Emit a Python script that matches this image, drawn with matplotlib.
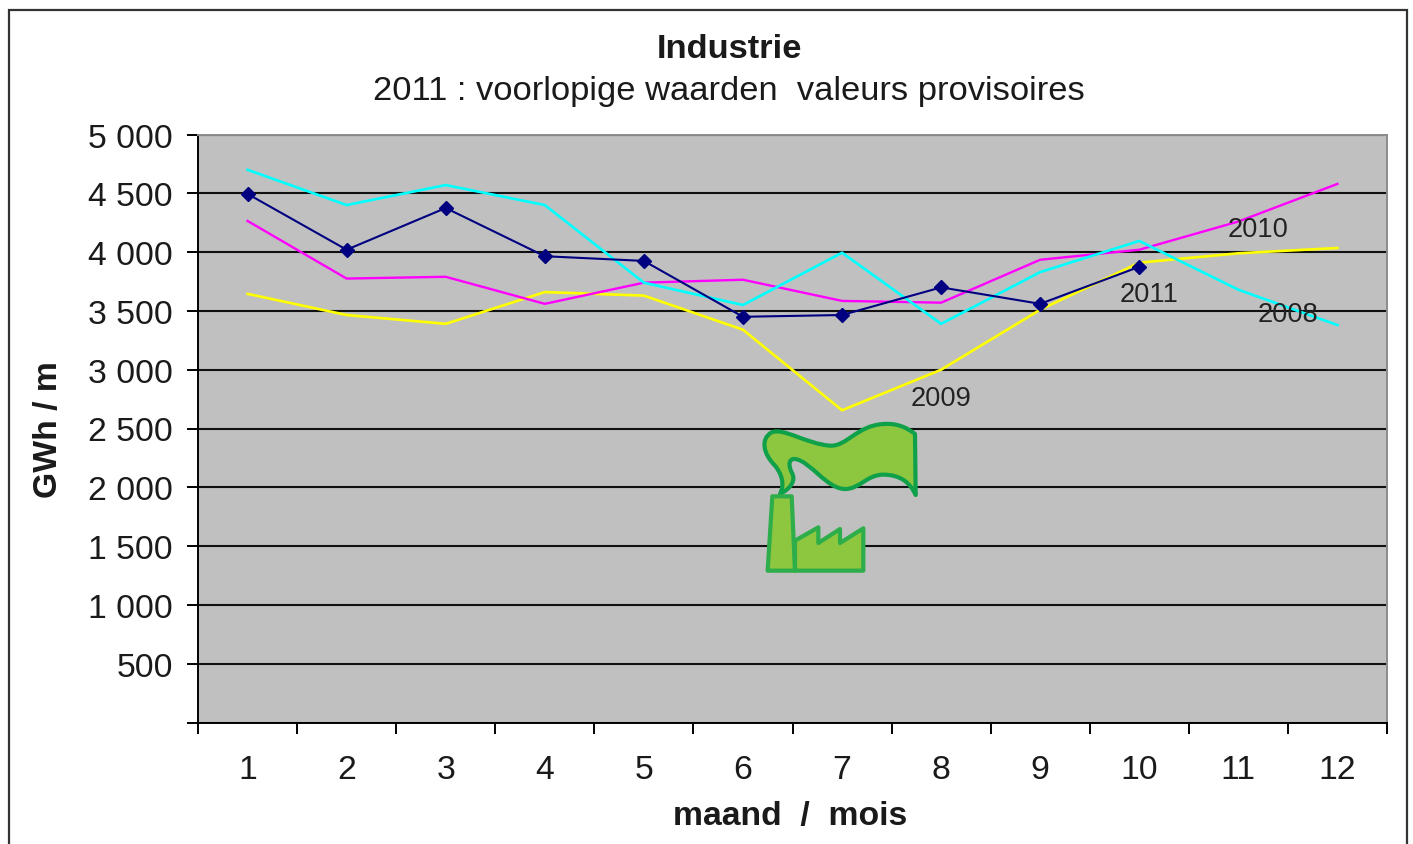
import matplotlib
matplotlib.use("Agg")
import matplotlib.pyplot as plt
from matplotlib.patches import PathPatch, Rectangle
from matplotlib.path import Path
from matplotlib.transforms import Affine2D
import numpy as np

plt.rcParams['font.family'] = ['Liberation Sans', 'DejaVu Sans']

W, H = 1413, 845

#--------chart data-------------#
months = [1, 2, 3, 4, 5, 6, 7, 8, 9, 10, 11, 12]
y2008 = [4700, 4400, 4570, 4400, 3740, 3550, 3995, 3390, 3830, 4095, 3680, 3380]
y2009 = [3645, 3465, 3390, 3660, 3630, 3340, 2655, 3000, 3510, 3910, 3990, 4035]
y2010 = [4265, 3775, 3790, 3560, 3740, 3765, 3585, 3570, 3935, 4020, 4260, 4580]
y2011 = [4495, 4020, 4375, 3965, 3925, 3450, 3465, 3700, 3560, 3875]
yticks = [0, 500, 1000, 1500, 2000, 2500, 3000, 3500, 4000, 4500, 5000]
ylabels = ['', '500', '1 000', '1 500', '2 000', '2 500', '3 000', '3 500', '4 000', '4 500', '5 000']
#--------end of data----------------#

fig = plt.figure(figsize=(W/100, H/100), dpi=100)
fig.patch.set_facecolor('white')

# outer frame of the pasted chart, runs off the bottom
fig.add_artist(Rectangle((8.5/W, -0.1), 1398/W, 0.1 + (H-10.5)/H, transform=fig.transFigure,
                         fill=False, edgecolor='#333333', lw=1.6))

ax = fig.add_axes([198/W, 1-723.5/H, 1189/W, 588/H])
ax.set_facecolor('#C0C0C0')
ax.set_xlim(0.5, 12.5)
ax.set_ylim(0, 5000)

ax.set_yticks(yticks)
ax.set_yticklabels(ylabels, fontsize=24.3, color='#1a1a1a')
ax.set_xticks(np.arange(0.5, 13))
ax.set_xticklabels([])
ax.set_xticks(months, minor=True)
ax.set_xticklabels([str(m) for m in months], minor=True, fontsize=24.3, color='#1a1a1a')
ax.tick_params(axis='y', length=8, width=1.4, pad=10)
ax.tick_params(axis='x', which='major', length=8, width=1.4)
ax.tick_params(axis='x', which='minor', length=0, pad=23)

ax.grid(True, axis='y', color='#111111', lw=1.5)
ax.set_axisbelow(True)
for s in ['top', 'right']:
    ax.spines[s].set_color('#8c8c8c')
    ax.spines[s].set_linewidth(1.4)
for s in ['left', 'bottom']:
    ax.spines[s].set_color('black')
    ax.spines[s].set_linewidth(1.4)

ax.plot(months, y2009, color='#FFFF00', lw=1.9)
ax.plot(months, y2010, color='#FF00FF', lw=1.7)
ax.plot(months, y2008, color='#00FFFF', lw=1.9)
ax.plot(months[:len(y2011)], y2011, color='#000080', lw=1.5, marker='D', markersize=7.5)

ax.text(11.2, 4200, '2010', fontsize=19.6, ha='center', va='center', color='#222222')
ax.text(10.1, 3640, '2011', fontsize=19.6, ha='center', va='center', color='#222222')
ax.text(11.5, 3470, '2008', fontsize=19.6, ha='center', va='center', color='#222222')
ax.text(8.0, 2760, '2009', fontsize=19.6, ha='center', va='center', color='#222222')

fig.text(729/W, 1-50/H, 'Industrie', fontsize=24.8, fontweight='bold', ha='center', va='center', color='#1a1a1a')
fig.text(729/W, 1-91.5/H, '2011 : voorlopige waarden  valeurs provisoires', fontsize=24.8,
         ha='center', va='center', color='#1a1a1a')
fig.text(790/W, 1-817/H, 'maand  /  mois', fontsize=24.3, fontweight='bold', ha='center', va='center', color='#1a1a1a')
fig.text(48/W, 1-430/H, 'GWh / m', fontsize=24.3, fontweight='bold', rotation=90, ha='center', va='center', color='#1a1a1a')

# factory icon, drawn in pixels from the top left corner
icon = Affine2D().scale(1/3).translate(740, 410).scale(1, -1).translate(0, H)
M, L, C, Z = Path.MOVETO, Path.LINETO, Path.CURVE4, Path.CLOSEPOLY
smoke = [(120, 255), (135, 225), (125, 195), (105, 170), (70, 135), (60, 90), (95, 70),
         (130, 55), (200, 105), (270, 110), (320, 113), (350, 50), (430, 45), (470, 42), (500, 55), (525, 75),
         (527, 258), (510, 220), (480, 197), (430, 197), (380, 197), (360, 240), (315, 240),
         (260, 240), (210, 155), (165, 150), (145, 148), (145, 170), (155, 190), (170, 215), (150, 240), (120, 255),
         (120, 255)]
smoke_codes = [M] + [C]*15 + [L] + [C]*15 + [Z]
stack = [(97, 262), (155, 262), (165, 485), (83, 485), (97, 262)]
stack_codes = [M, L, L, L, Z]
shed = [(165, 395), (235, 355), (235, 402), (300, 360), (300, 402), (370, 358), (370, 485), (165, 485), (165, 395)]
shed_codes = [M, L, L, L, L, L, L, L, Z]
for pts, codes, edge in [(smoke, smoke_codes, '#0FA04A'), (stack, stack_codes, '#2DAE4A'), (shed, shed_codes, '#2DAE4A')]:
    fig.add_artist(PathPatch(Path(pts, codes), facecolor='#8DC63F', edgecolor=edge, lw=3,
                             joinstyle='round', transform=icon, zorder=5))

fig.savefig('out.png', dpi=100)
